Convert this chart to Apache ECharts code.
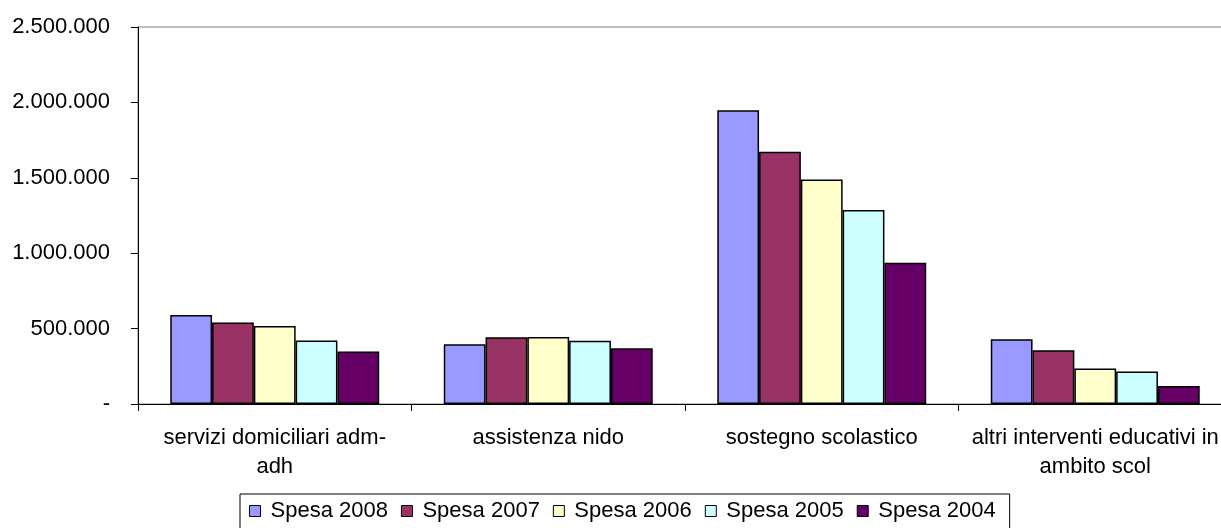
<!DOCTYPE html>
<html>
<head>
<meta charset="utf-8">
<script src="https://cdn.jsdelivr.net/npm/echarts@6/dist/echarts.min.js"></script>
<style>
  html, body { margin: 0; padding: 0; background: #fff; }
  #chart { width: 1221px; height: 528px; }
</style>
</head>
<body>
<div id="chart"></div>
<script>
// categorie (a capo come nell'originale)
const categorie = [
  'servizi domiciliari adm-\nadh',
  'assistenza nido',
  'sostegno scolastico',
  'altri interventi educativi in\nambito scol'
]

const spesa2008 = [590000, 397000, 1948000, 430000]
const spesa2007 = [540000, 443000, 1672000, 357000]
const spesa2006 = [518000, 445000, 1489000, 236000]
const spesa2005 = [421000, 419000, 1286000, 216000]
const spesa2004 = [348000, 370000, 937000, 119000]

const nomiSerie = ['Spesa 2008', 'Spesa 2007', 'Spesa 2006', 'Spesa 2005', 'Spesa 2004']
const colori = ['#9999ff', '#993366', '#ffffcc', '#ccffff', '#660066']
const valori = [spesa2008, spesa2007, spesa2006, spesa2005, spesa2004]

const FONT = '"Liberation Sans", Arial, sans-serif'

// 1500000 -> 1.500.000, 0 -> '-'
function formatta(v) {
  if (v === 0) return '-'
  return String(v).replace(/\B(?=(\d{3})+(?!\d))/g, '.')
}

const chart = echarts.init(document.getElementById('chart'), null, { renderer: 'canvas' })

chart.setOption({
  backgroundColor: '#ffffff',
  animation: false,
  textStyle: { fontFamily: FONT },
  grid: {
    left: 138,
    width: 1094,   // il bordo destro esce dall'immagine, come nell'originale
    top: 27,
    bottom: 124,
    outerBoundsMode: 'none',
    containLabel: false,
    show: true,
    borderColor: '#808080',
    borderWidth: 1,
    backgroundColor: 'transparent'
  },
  legend: {
    left: 240,
    top: 494,
    padding: [6, 14, 14, 9],
    borderColor: '#000000',
    borderWidth: 1,
    icon: 'rect',
    itemWidth: 11,
    itemHeight: 11,
    itemGap: 13,
    itemStyle: { borderColor: '#000', borderWidth: 1 },
    textStyle: { color: '#000', fontSize: 22, fontFamily: FONT, padding: [0, 0, 0, 5] },
    data: nomiSerie
  },
  xAxis: {
    type: 'category',
    data: categorie,
    axisLine: { lineStyle: { color: '#000', width: 1 } },
    axisTick: { show: true, length: 7, lineStyle: { color: '#000' } },
    axisLabel: {
      color: '#000',
      fontSize: 22,
      fontFamily: FONT,
      lineHeight: 29,
      margin: 19,
      interval: 0
    },
    splitLine: { show: false }
  },
  yAxis: {
    type: 'value',
    min: 0,
    max: 2500000,
    interval: 500000,
    axisLine: { show: true, lineStyle: { color: '#000', width: 1 } },
    axisTick: { show: true, length: 7, lineStyle: { color: '#000' } },
    axisLabel: {
      color: '#000',
      fontSize: 22,
      fontFamily: FONT,
      margin: 28,
      formatter: formatta
    },
    splitLine: { show: false }
  },
  series: nomiSerie.map((nome, i) => ({
    name: nome,
    type: 'bar',
    data: valori[i],
    barGap: '0%',
    barCategoryGap: '23.6%',
    itemStyle: { color: colori[i], borderColor: '#000', borderWidth: 1.5 }
  }))
})
</script>
</body>
</html>
